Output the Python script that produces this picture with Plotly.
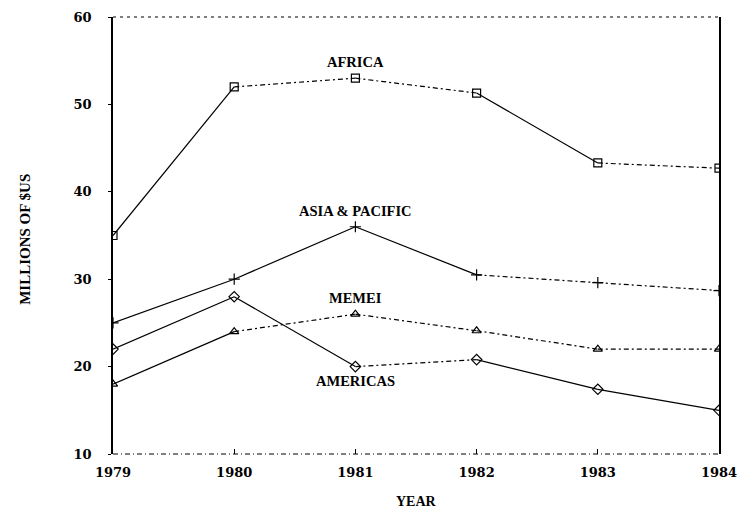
import plotly.graph_objects as go

# ---- data ----
years = [1979, 1980, 1981, 1982, 1983, 1984]
africa = [35, 52, 53, 51.3, 43.3, 42.7]
asia_pacific = [25, 30, 36, 30.5, 29.6, 28.7]
memei = [18, 24, 26, 24.1, 22, 22]
americas = [22, 28, 20, 20.8, 17.4, 15]

y_ticks = [10, 20, 30, 40, 50, 60]
x_ticks = years

series_names = ["AFRICA", "ASIA & PACIFIC", "MEMEI", "AMERICAS"]
series_values = [africa, asia_pacific, memei, americas]

# ---- styling (not data) ----
DD = "5px,3px,2px,3px"
segment_dash = {
    "AFRICA": ["solid", DD, DD, "solid", DD],
    "ASIA & PACIFIC": ["solid", "solid", "solid", DD, DD],
    "MEMEI": ["solid", DD, DD, DD, DD],
    "AMERICAS": ["solid", "solid", DD, "solid", "solid"],
}
marker_symbol = {
    "AFRICA": "square-open",
    "ASIA & PACIFIC": "cross-thin-open",
    "MEMEI": "triangle-up-open",
    "AMERICAS": "diamond-open",
}
label_pos = {  # label anchor positions in data units
    "AFRICA": (1981, 54.9),
    "ASIA & PACIFIC": (1981, 37.8),
    "MEMEI": (1981, 27.9),
    "AMERICAS": (1981, 18.4),
}

fig = go.Figure()

for name, vals in zip(series_names, series_values):
    dashes = segment_dash[name]
    for i in range(len(years) - 1):
        fig.add_trace(go.Scatter(
            x=years[i:i + 2], y=vals[i:i + 2], mode="lines",
            line=dict(color="black", width=1.2, dash=dashes[i]),
            showlegend=False, hoverinfo="skip"))
    fig.add_trace(go.Scatter(
        x=years, y=vals, mode="markers", name=name,
        marker=dict(symbol=marker_symbol[name], size=8, color="black",
                    line=dict(color="black", width=1.2)),
        showlegend=False))

serif = "Liberation Serif"
for name in series_names:
    lx, ly = label_pos[name]
    fig.add_annotation(x=lx, y=ly, text="<b>" + name + "</b>", showarrow=False,
                       xanchor="center", yanchor="middle",
                       font=dict(family=serif, size=14.5, color="black"))

# axis titles
fig.add_annotation(xref="paper", yref="paper", x=0, y=0.49, xshift=-88,
                   xanchor="center", yanchor="middle",
                   text="<b>MILLIONS OF $US</b>", textangle=-90, showarrow=False,
                   font=dict(family=serif, size=15, color="black"))
fig.add_annotation(xref="paper", yref="paper", x=0.5, y=0, yshift=-47,
                   xanchor="center", yanchor="middle",
                   text="<b>YEAR</b>", showarrow=False,
                   font=dict(family=serif, size=14, color="black"))

# dotted top and bottom frame lines
fig.add_shape(type="line", xref="paper", yref="paper", x0=0, x1=1, y0=1, y1=1,
              line=dict(color="black", width=1.1, dash="3px,4px"))
fig.add_shape(type="line", xref="paper", yref="paper", x0=0, x1=1, y0=0, y1=0,
              line=dict(color="black", width=1.1, dash="5px,3px,1px,3px"))

fig.update_xaxes(range=[1979, 1984], tickvals=x_ticks,
                 ticktext=[str(v) for v in x_ticks],
                 showgrid=False, zeroline=False, showline=False,
                 ticks="inside", ticklen=5, tickcolor="black", tickwidth=1,
                 ticklabelstandoff=9, ticklabeloverflow="allow",
                 tickfont=dict(family="DejaVu Serif", size=13, color="black", weight="bold"))
fig.update_yaxes(range=[10, 60], tickvals=y_ticks,
                 showgrid=False, zeroline=False,
                 showline=True, mirror=True, linecolor="black", linewidth=1.8,
                 ticks="outside", ticklen=3, tickcolor="black", tickwidth=1,
                 ticklabelstandoff=14, ticklabeloverflow="allow",
                 tickfont=dict(family="DejaVu Serif", size=13, color="black", weight="bold"))

# the page body adds an 8px margin, so the figure is sized to fit inside it
fig.update_layout(
    width=737, height=501,
    margin=dict(l=105, r=26, t=9, b=55, autoexpand=False),
    paper_bgcolor="white", plot_bgcolor="white",
    showlegend=False,
)

fig.write_html("out.html")
